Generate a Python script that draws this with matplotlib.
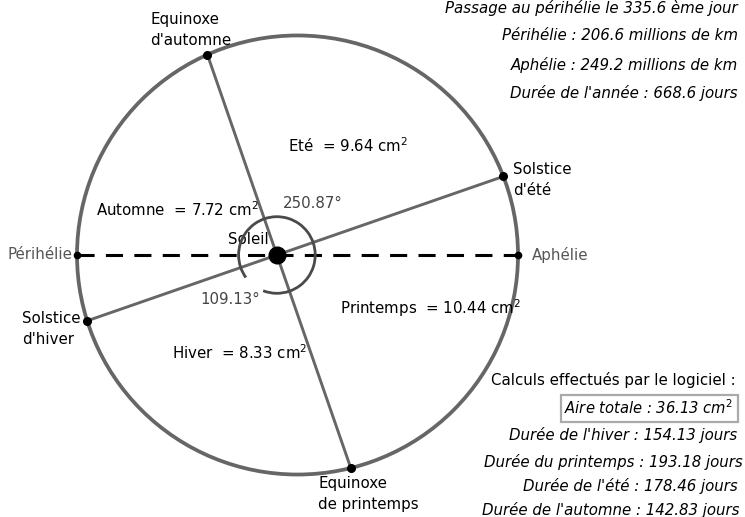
import numpy as np
import matplotlib
matplotlib.use("Agg")
import matplotlib.pyplot as plt
from matplotlib.patches import Ellipse, Arc, Rectangle

plt.rcParams["mathtext.fontset"] = "dejavusans"

# ---- data ----
perihelion_mkm = 206.6
aphelion_mkm = 249.2
season_names = ["Solstice\nd'été", "Equinoxe\nd'automne", "Solstice\nd'hiver", "Equinoxe\nde printemps"]
season_angles_deg = [19.13, 109.13, 199.13, 289.13]   # direction from the Sun
area_labels = ["Eté  = 9.64 cm$^2$", "Automne  = 7.72 cm$^2$", "Hiver  = 8.33 cm$^2$", "Printemps  = 10.44 cm$^2$"]
angle_labels = ["250.87°", "109.13°"]
info_top = ["Passage au périhélie le 335.6 ème jour",
            "Périhélie : 206.6 millions de km",
            "Aphélie : 249.2 millions de km",
            "Durée de l'année : 668.6 jours"]
calc_title = "Calculs effectués par le logiciel :"
calc_total = "Aire totale : 36.13 cm$^2$"
calc_lines = ["Durée de l'hiver : 154.13 jours",
              "Durée du printemps : 193.18 jours",
              "Durée de l'été : 178.46 jours",
              "Durée de l'automne : 142.83 jours"]

# ---- geometry ----
a = (perihelion_mkm + aphelion_mkm) / 2
c = (aphelion_mkm - perihelion_mkm) / 2
e = c / a
b = np.sqrt(perihelion_mkm * aphelion_mkm)
p = a * (1 - e**2)

W, H = 745, 517
scale = 0.9675          # px per million km
sun_px = (276.9, 255.0)

fig = plt.figure(figsize=(W / 100, H / 100), dpi=100)
ax = fig.add_axes([0, 0, 1, 1])
ax.set_xlim(-sun_px[0] / scale, (W - sun_px[0]) / scale)
ax.set_ylim((sun_px[1] - H) / scale, sun_px[1] / scale)
ax.axis("off")

def px(x, y):
    return ((x - sun_px[0]) / scale, (sun_px[1] - y) / scale)

gray = "#666666"
# orbit (perihelion on the left, so centre is to the right of the Sun)
ax.add_patch(Ellipse((c, 0), 2 * a, 2 * b, fill=False, ec=gray, lw=2.7, zorder=2))
# apsides line
ax.plot([-perihelion_mkm, aphelion_mkm], [0, 0], color="black", lw=2.2,
        dashes=(5.6, 3.7), zorder=3)
# season lines and points
pts = []
for ang in season_angles_deg:
    th = np.radians(ang)
    r = p / (1 - e * np.cos(th))   # perihelion is in direction 180°
    pts.append((r * np.cos(th), r * np.sin(th)))
for i in range(2):
    p1, p2 = pts[i], pts[i + 2]
    ax.plot([p1[0], p2[0]], [p1[1], p2[1]], color=gray, lw=2.1, zorder=3)
ax.plot([q[0] for q in pts], [q[1] for q in pts], "o", color="black", ms=5.5, zorder=5)
ax.plot([-perihelion_mkm, aphelion_mkm], [0, 0], "o", color="black", ms=4.5, zorder=5)
# sun
ax.plot([0], [0], "o", color="black", ms=12, zorder=6)
# angle arcs
rr = 38.3 / scale
ax.add_patch(Arc((0, 0), 2 * rr, 2 * rr, theta1=season_angles_deg[3] - 360, theta2=216,
                 ec="#4a4a4a", lw=2.0, zorder=4))
ax.add_patch(Arc((0, 0), 2 * rr, 2 * rr, theta1=249, theta2=season_angles_deg[3],
                 ec="#4a4a4a", lw=2.0, zorder=4))

fs = 10.8
def txt(x, y, s, **kw):
    kw.setdefault("fontsize", fs)
    kw.setdefault("va", "center")
    ax.text(*px(x, y), s, **kw)

# point labels
label_pos = [(513, 180), (150, 30), (22, 329), (318, 494)]
for (x, y), s in zip(label_pos, season_names):
    txt(x, y, s, ha="left", linespacing=1.45)
txt(72, 255, "Périhélie", ha="right", color="#555555")
txt(532, 255, "Aphélie", ha="left", color="#555555")
txt(228, 240, "Soleil", ha="left")
txt(283, 204, angle_labels[0], ha="left", color="#444444")
txt(200, 300, angle_labels[1], ha="left", color="#444444")
# area labels
area_pos = [(288, 146), (96, 210), (172, 353), (340, 308)]
for (x, y), s in zip(area_pos, area_labels):
    txt(x, y, s, ha="left")

# info texts
for y, s in zip([8, 36, 65, 93], info_top):
    txt(738, y, s, ha="right", style="italic")
txt(736, 380, calc_title, ha="right")
txt(733, 408, calc_total, ha="right", style="italic", fontsize=10.6)
bx0, by0 = px(561, 422)
bx1, by1 = px(738, 395)
ax.add_patch(Rectangle((bx0, by0), bx1 - bx0, by1 - by0, fill=False, ec="#aaaaaa", lw=1.6))
for y, xr, s in zip([435, 462, 486, 510], [737, 743, 738, 740], calc_lines):
    txt(xr, y, s, ha="right", style="italic")

fig.savefig("out.png", dpi=100)
